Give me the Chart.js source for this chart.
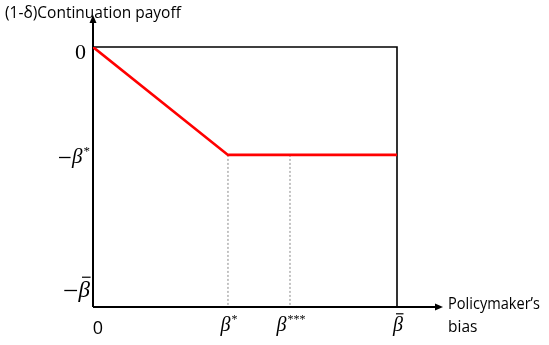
<!DOCTYPE html>
<html>
<head>
<meta charset="utf-8">
<script src="https://cdn.jsdelivr.net/npm/chart.js@4/dist/chart.umd.min.js"></script>
<style>
  html, body { margin: 0; padding: 0; background: #fff; }
  #wrap { width: 549px; height: 345px; }
</style>
</head>
<body>
<div id="wrap"><canvas id="c" width="549" height="345"></canvas></div>
<script>
// Bias axis runs from 0 to beta-bar (= 1); payoff axis from -beta-bar (= -1) to 0
const biasMin = 0;
const biasMax = 1;
const payoffMin = -1;
const payoffMax = 0;

// Key bias levels
const betaStar = 0.444;
const betaTripleStar = 0.648;
const payoffFloor = -0.415;   // level of -beta* on the payoff axis

// Continuation payoff curve: falls until beta*, flat afterwards
const curveBias = [0, betaStar, biasMax];
const curvePayoff = [0, payoffFloor, payoffFloor];

// Tick labels: [negative, symbol, superscript, overbar]
const xTickValues = [0, betaStar, betaTripleStar, biasMax];
const xTickLabels = [[false, '0', '', false], [false, 'β', '*', false], [false, 'β', '***', false], [false, 'β', '', true]];
const yTickValues = [0, payoffFloor, payoffMin];
const yTickLabels = [[false, '0', '', false], [true, 'β', '*', false], [true, 'β', '', true]];

const yTitle = '(1-δ)Continuation payoff';
const xTitle = ['Policymaker’s', 'bias'];

const curve = curveBias.map((b, i) => ({ x: b, y: curvePayoff[i] }));
const guide1 = [{ x: betaStar, y: payoffFloor }, { x: betaStar, y: payoffMin }];
const guide2 = [{ x: betaTripleStar, y: payoffFloor }, { x: betaTripleStar, y: payoffMin }];

const MATH = '"Liberation Serif", serif';

function arrow(ctx, x, y, dir) {
  ctx.beginPath();
  if (dir === 'up') {
    ctx.moveTo(x, y); ctx.lineTo(x - 3.5, y + 8); ctx.lineTo(x + 3.5, y + 8);
  } else {
    ctx.moveTo(x, y); ctx.lineTo(x - 8, y - 3.5); ctx.lineTo(x - 8, y + 3.5);
  }
  ctx.closePath();
  ctx.fill();
}

// Draws a math label [negative, symbol, sup, bar]; anchor: 'right' | 'center'
function mathLabel(ctx, lab, x, y, size, anchor) {
  const [neg, sym, sup, bar] = lab;
  const wSign = neg ? size * 0.62 : 0;
  ctx.font = 'italic ' + size + 'px ' + MATH;
  const wSym = ctx.measureText(sym).width;
  const supSize = Math.round(size * 0.6);
  ctx.font = supSize + 'px ' + MATH;
  const wSup = sup ? ctx.measureText(sup).width + 1 : 0;
  const total = wSign + wSym + wSup;
  const x0 = anchor === 'right' ? x - total : anchor === 'center' ? x - total / 2 : x;
  ctx.save();
  ctx.strokeStyle = '#000';
  ctx.textAlign = 'left';
  ctx.textBaseline = 'alphabetic';
  if (neg) {
    ctx.lineWidth = 1.3;
    ctx.beginPath();
    const my = Math.round(y - size * 0.3) + 0.5;
    ctx.moveTo(x0, my);
    ctx.lineTo(x0 + wSign - 1.5, my);
    ctx.stroke();
  }
  ctx.font = 'italic ' + size + 'px ' + MATH;
  ctx.fillText(sym, x0 + wSign, y);
  if (sup) {
    ctx.font = supSize + 'px ' + MATH;
    ctx.fillText(sup, x0 + wSign + wSym + 1, y - size * 0.38);
  }
  if (bar) {
    ctx.lineWidth = 1.2;
    ctx.beginPath();
    const by = y - size * 0.86;
    ctx.moveTo(x0 + wSign + wSym * 0.3, by);
    ctx.lineTo(x0 + wSign + wSym * 1.05, by);
    ctx.stroke();
  }
  ctx.restore();
}

const framePlugin = {
  id: 'frame',
  beforeDatasetsDraw(chart) {
    const { ctx } = chart;
    const xs = chart.scales.x, ys = chart.scales.y;
    const l = xs.getPixelForValue(biasMin), r = xs.getPixelForValue(biasMax);
    const t = ys.getPixelForValue(payoffMax), b = ys.getPixelForValue(payoffMin);
    ctx.save();
    ctx.strokeStyle = '#000';
    ctx.fillStyle = '#000';
    ctx.lineWidth = 2;
    ctx.beginPath();
    ctx.moveTo(l, b); ctx.lineTo(l, 20);
    ctx.moveTo(l, b); ctx.lineTo(437, b);
    ctx.stroke();
    arrow(ctx, l, 15, 'up');
    arrow(ctx, 443, b, 'right');
    ctx.lineWidth = 1.6;
    ctx.beginPath();
    ctx.moveTo(l, t); ctx.lineTo(r, t); ctx.lineTo(r, b);
    ctx.stroke();
    ctx.restore();
  },
  afterDraw(chart) {
    const { ctx } = chart;
    const xs = chart.scales.x, ys = chart.scales.y;
    ctx.save();
    ctx.fillStyle = '#000';
    ctx.textBaseline = 'alphabetic';

    // axis titles
    ctx.font = '15.5px "Open Sans", sans-serif';
    ctx.textAlign = 'left';
    ctx.fillText(yTitle, 5, 18, 242);
    ctx.fillText(xTitle[0], 448, 309, 92);
    ctx.fillText(xTitle[1], 448, 332);

    // y tick labels
    yTickLabels.forEach((lab, i) => {
      const py = ys.getPixelForValue(yTickValues[i]);
      if (i === 0) {
        ctx.font = '22px ' + MATH;
        ctx.textAlign = 'right';
        ctx.fillText(lab[1], 86, py + 12);
      } else if (i === 1) {
        mathLabel(ctx, lab, 90, py + 8, 21, 'right');
      } else {
        mathLabel(ctx, lab, 90, py - 10, 23, 'right');
      }
    });

    // x tick labels
    xTickLabels.forEach((lab, i) => {
      const px = xs.getPixelForValue(xTickValues[i]);
      if (i === 0) {
        ctx.font = '18px "Open Sans", sans-serif';
        ctx.textAlign = 'center';
        ctx.fillText(lab[1], px + 5, 334);
      } else {
        mathLabel(ctx, lab, px + 1, 331, 20, 'center');
      }
    });
    ctx.restore();
  }
};

new Chart(document.getElementById('c'), {
  type: 'line',
  data: {
    datasets: [
      { data: curve, borderColor: '#ff0000', borderWidth: 2.6, pointRadius: 0, fill: false, tension: 0, order: 0 },
      { data: guide1, borderColor: '#888', borderWidth: 1, borderDash: [2, 2], pointRadius: 0, fill: false, order: 1 },
      { data: guide2, borderColor: '#888', borderWidth: 1, borderDash: [2, 2], pointRadius: 0, fill: false, order: 1 }
    ]
  },
  options: {
    responsive: false,
    animation: false,
    layout: { padding: { left: 93, right: 152, top: 47, bottom: 38 } },
    plugins: { legend: { display: false }, tooltip: { enabled: false } },
    scales: {
      x: { type: 'linear', min: biasMin, max: biasMax, display: false },
      y: { type: 'linear', min: payoffMin, max: payoffMax, display: false }
    }
  },
  plugins: [framePlugin]
});
</script>
</body>
</html>
